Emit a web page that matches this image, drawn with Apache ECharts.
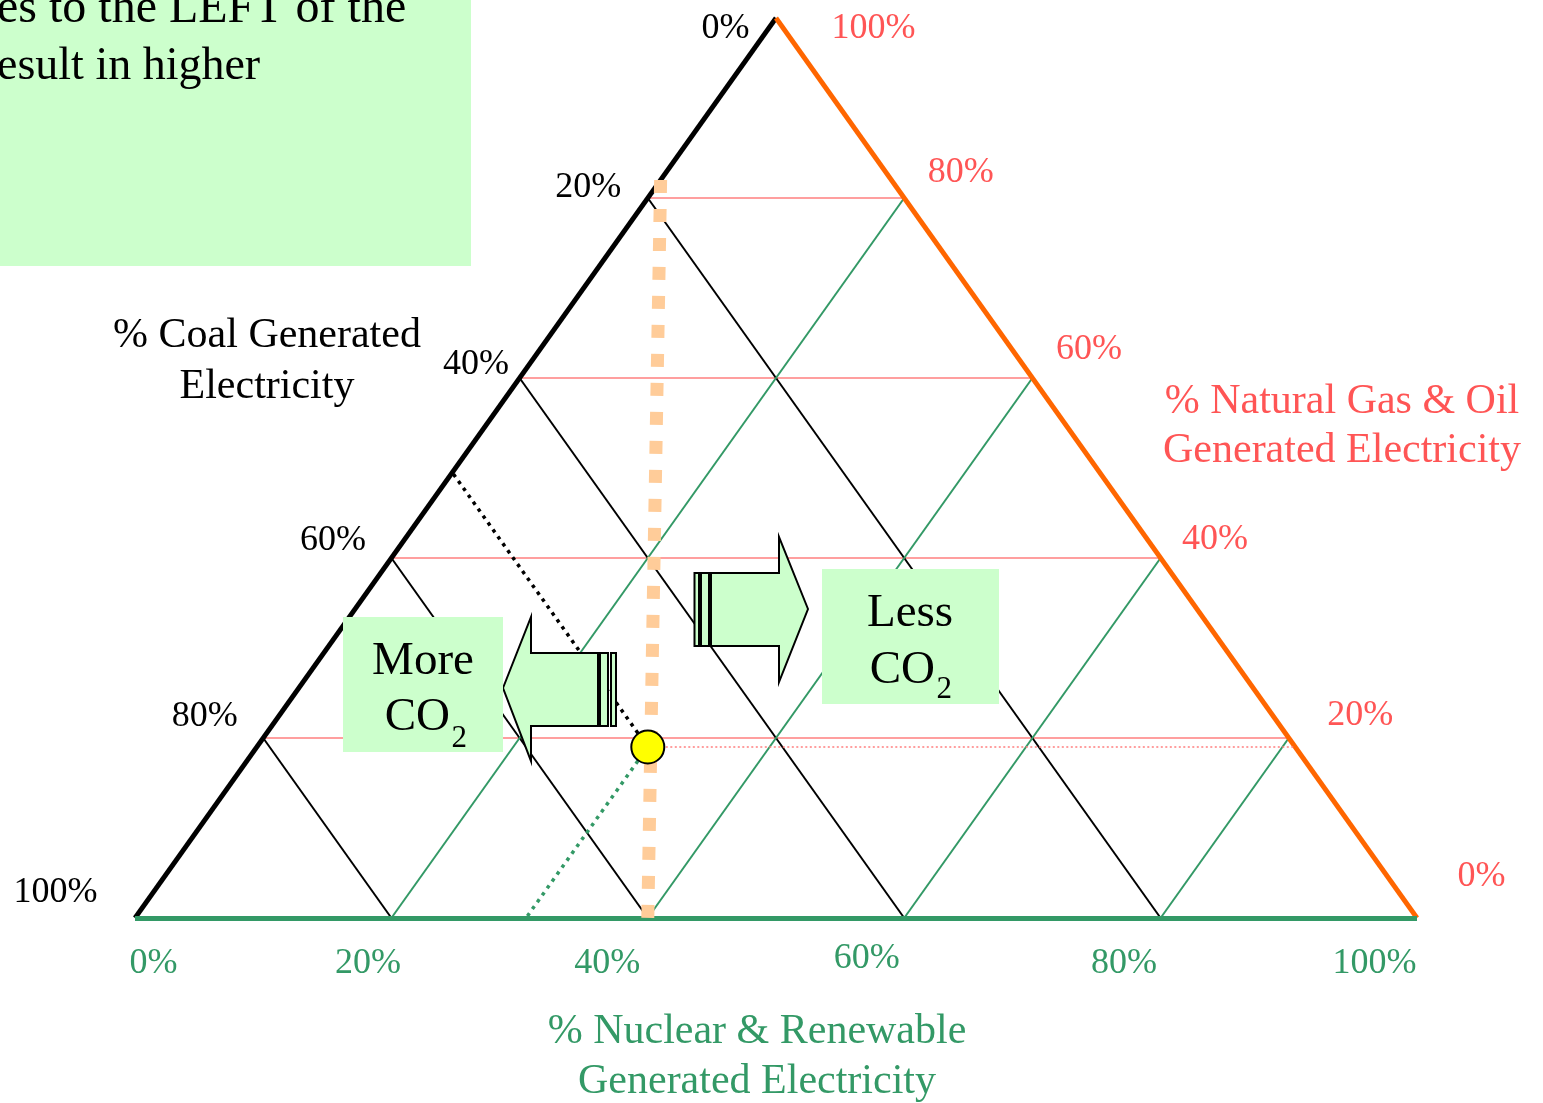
<!DOCTYPE html>
<html>
<head>
<meta charset="utf-8">
<script src="https://cdn.jsdelivr.net/npm/echarts@6/dist/echarts.min.js"></script>
<style>
html,body{margin:0;padding:0;background:#ffffff;}
#chart{width:1543px;height:1103px;}
</style>
</head>
<body>
<div id="chart"></div>
<script>
// ================= DATA =================
const tickValues = [0, 20, 40, 60, 80, 100];
const coalTickLabels = ['0%', '20%', '40%', '60%', '80%', '100%'];
const gasTickLabels = ['0%', '20%', '40%', '60%', '80%', '100%'];
const nuclearTickLabels = ['0%', '20%', '40%', '60%', '80%', '100%'];
const gridLevels = [20, 40, 60, 80];
// example generation mix: [coal, nuclear & renewable, natural gas & oil] in %
const mixPoint = [50.5, 30.5, 19];
// equal-CO2 reference line end points: [coal, nuclear & renewable, natural gas & oil] in %
const co2LineStart = [18, 0, 82];
const co2LineEnd = [60, 40, 0];
const coalTitle = ['% Coal Generated', 'Electricity'];
const gasTitle = ['% Natural Gas & Oil', 'Generated Electricity'];
const nuclearTitle = ['% Nuclear & Renewable', 'Generated Electricity'];
const noteLines = ['es to the LEFT of the', 'esult in higher'];
const moreText = ['More', 'CO', '2'];
const lessText = ['Less', 'CO', '2'];

// ================= STYLE =================
const FONT = '"Liberation Serif", "Times New Roman", Times, serif';
const RED_TEXT = '#ff5555';
const RED_LINE = '#ff7f7f';
const GREEN = '#339966';
const ORANGE = '#ff6600';
const PEACH = '#ffcc99';
const BOXFILL = '#ccffcc';
const TDY = 4; // vertical text baseline correction
// pixel nudges of the tick labels from their tick point on the edge
const coalLabelNudge = [[-26, 7], [-26, -14], [-10, -17], [-25, -21], [-25, -25], [-37, -29]];
const gasLabelNudge = [[41, -45], [39, -26], [22, -22], [24, -32], [24, -29], [56, 7]];
const nuclearLabelNudge = [[19, 42], [-23, 42], [-40, 42], [-37, 37], [-36, 42], [-42, 42]];

// ternary (coal, nuclear, gas) -> cartesian value coords
function tern(coal, nuc, gas) { return [nuc + gas / 2, gas]; }
function ternA(a) { return tern(a[0], a[1], a[2]); }

function segSeries(segs, style, z) {
  return {
    type: 'lines', coordinateSystem: 'cartesian2d', polyline: false, silent: true,
    clip: false, z: z, animation: false,
    lineStyle: Object.assign({ opacity: 1, curveness: 0, cap: 'butt' }, style),
    data: segs.map(s => ({ coords: s }))
  };
}

const redGrid = gridLevels.map(g => [tern(100 - g, 0, g), tern(0, 100 - g, g)]);
const blackGrid = gridLevels.map(c => [tern(c, 0, 100 - c), tern(c, 100 - c, 0)]);
const greenGrid = gridLevels.map(n => [tern(100 - n, n, 0), tern(0, n, 100 - n)]);

const pc = mixPoint[0], pn = mixPoint[1], pg = mixPoint[2];
const dotToCoal = [[ternA(mixPoint), tern(pc, 0, 100 - pc)]];
const dotToNuc = [[ternA(mixPoint), tern(100 - pn, pn, 0)]];
const dotToGas = [[ternA(mixPoint), tern(0, 100 - pg, pg)]];

function labelSeries(values, labels, nudges, align, color, z) {
  return {
    type: 'scatter', silent: true, z: z, animation: false, clip: false,
    symbolSize: 1, itemStyle: { color: 'transparent', opacity: 1 },
    label: {
      show: true, formatter: '{b}', color: color, fontFamily: FONT, fontSize: 36,
      align: align, verticalAlign: 'middle', opacity: 1
    },
    data: values.map((v, i) => ({
      name: labels[i], value: v,
      label: { position: [nudges[i][0], nudges[i][1] + TDY] }
    }))
  };
}

const series = [
  segSeries(redGrid, { color: RED_LINE, width: 1.7 }, 2),
  segSeries(blackGrid, { color: '#000000', width: 2 }, 3),
  segSeries(greenGrid, { color: GREEN, width: 2 }, 3),
  segSeries([[tern(100, 0, 0), tern(0, 0, 100)]], { color: '#000000', width: 4.8 }, 5),
  segSeries([[tern(0, 0, 100), tern(0, 100, 0)]], { color: ORANGE, width: 4.8 }, 5),
  segSeries([[tern(100, 0, 0), tern(0, 100, 0)]], { color: GREEN, width: 5 }, 5),
  segSeries(dotToCoal, { color: '#000000', width: 3.5, type: [3.5, 5] }, 6),
  segSeries(dotToNuc, { color: GREEN, width: 3.5, type: [3.5, 5] }, 6),
  segSeries(dotToGas, { color: RED_LINE, width: 1.5, type: [2, 2.5] }, 6),
  segSeries([[ternA(co2LineStart), ternA(co2LineEnd)]], { color: PEACH, width: 13, type: [13, 16] }, 7),
  {
    type: 'scatter', silent: true, z: 9, animation: false, clip: false,
    symbol: 'circle', symbolSize: 33,
    itemStyle: { color: '#ffff00', borderColor: '#000000', borderWidth: 2, opacity: 1 },
    data: [ternA(mixPoint)]
  },
  labelSeries(tickValues.map(c => tern(c, 0, 100 - c)), coalTickLabels, coalLabelNudge, 'right', '#000000', 8),
  labelSeries(tickValues.map(g => tern(0, 100 - g, g)), gasTickLabels, gasLabelNudge, 'left', RED_TEXT, 8),
  labelSeries(tickValues.map(n => tern(100 - n, n, 0)), nuclearTickLabels, nuclearLabelNudge, 'center', GREEN, 8)
];

function txt(x, y, text, size, color, align) {
  return {
    type: 'text', x: x, y: y + TDY, z: 110, silent: true,
    style: { text: text, font: size + 'px ' + FONT, fill: color, align: align || 'center', verticalAlign: 'middle' }
  };
}
const arrowStyle = { fill: BOXFILL, stroke: '#000000', lineWidth: 2 };
function rect(x, y, w, h, style, z) {
  return { type: 'rect', z: z || 100, silent: true, shape: { x: x, y: y, width: w, height: h }, style: style };
}

const graphic = [
  // note box (top-left)
  rect(0, 0, 471, 266, { fill: BOXFILL }),
  txt(-3, 5, noteLines[0], 48, '#000000', 'left'),
  txt(-3, 63, noteLines[1], 46, '#000000', 'left'),
  // axis titles
  txt(267, 332, coalTitle[0], 42, '#000000'),
  txt(267, 383, coalTitle[1], 42, '#000000'),
  txt(1342, 398, gasTitle[0], 42, RED_TEXT),
  txt(1342, 447, gasTitle[1], 42, RED_TEXT),
  txt(757, 1028, nuclearTitle[0], 42, GREEN),
  txt(757, 1078, nuclearTitle[1], 42, GREEN),
  // "More CO2" arrow (pointing left)
  { type: 'polygon', z: 100, silent: true, shape: { points: [[503, 688], [531, 617], [531, 653], [598, 653], [598, 726], [531, 726], [531, 761]] }, style: arrowStyle },
  rect(600, 653, 8, 73, arrowStyle),
  rect(611, 653, 5, 73, arrowStyle),
  // "Less CO2" arrow (pointing right)
  { type: 'polygon', z: 100, silent: true, shape: { points: [[808, 609], [779, 537], [779, 573], [711, 573], [711, 646], [779, 646], [779, 682]] }, style: arrowStyle },
  rect(701, 573, 8, 73, arrowStyle),
  rect(694.5, 573, 4.5, 73, arrowStyle),
  // More CO2 box
  rect(343, 617, 160, 135, { fill: BOXFILL }),
  txt(423, 658, moreText[0], 47, '#000000'),
  txt(450, 714, moreText[1], 47, '#000000', 'right'),
  txt(451.5, 734.5, moreText[2], 31, '#000000', 'left'),
  // Less CO2 box
  rect(822, 569, 177, 135, { fill: BOXFILL }),
  txt(910, 610, lessText[0], 47, '#000000'),
  txt(935, 667, lessText[1], 47, '#000000', 'right'),
  txt(936.5, 686, lessText[2], 31, '#000000', 'left')
];

const chart = echarts.init(document.getElementById('chart'), null, { renderer: 'canvas' });
chart.setOption({
  animation: false,
  backgroundColor: '#ffffff',
  grid: { left: 135, right: 126, top: 18, bottom: 185 },
  xAxis: { type: 'value', min: 0, max: 100, show: false },
  yAxis: { type: 'value', min: 0, max: 100, show: false },
  series: series,
  graphic: graphic
});
</script>
</body>
</html>
